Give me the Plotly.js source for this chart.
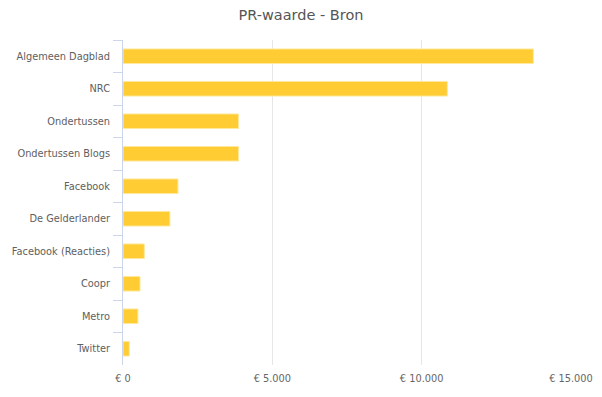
<!DOCTYPE html>
<html>
<head>
<meta charset="utf-8">
<script src="https://cdn.plot.ly/plotly-3.0.1.min.js"></script>
<style>html,body{margin:0;padding:0;background:#fff;}#chart{width:602px;height:397px;}</style>
</head>
<body>
<div id="chart"></div>
<script>
const categories = ["Algemeen Dagblad", "NRC", "Ondertussen", "Ondertussen Blogs", "Facebook", "De Gelderlander", "Facebook (Reacties)", "Coopr", "Metro", "Twitter"];
const prWaarde = [13740, 10860, 3870, 3870, 1840, 1570, 715, 570, 500, 210];
const xTickValues = [0, 5000, 10000, 15000];
const xTickLabels = xTickValues.map(v => "\u20AC " + String(v).replace(/\B(?=(\d{3})+(?!\d))/g, "."));

const trace = {
  type: "bar",
  orientation: "h",
  y: categories,
  x: prWaarde,
  marker: {color: "#ffcc33", line: {color: "#ffe9a0", width: 1}},
  hoverinfo: "x+y"
};

const layout = {
  width: 602,
  height: 397,
  margin: {l: 123, r: 31, t: 40, b: 32},
  paper_bgcolor: "#ffffff",
  plot_bgcolor: "#ffffff",
  font: {family: "DejaVu Sans, Verdana, sans-serif", size: 10, color: "#666666"},
  title: {text: "PR-waarde - Bron", font: {family: "DejaVu Sans, Verdana, sans-serif", size: 14.5, color: "#555555"}, x: 0.5, xanchor: "center", y: 0.962, yanchor: "middle"},
  bargap: 0.55,
  showlegend: false,
  xaxis: {
    range: [0, 15000.01],
    tickvals: xTickValues,
    ticktext: xTickLabels,
    showgrid: true,
    gridcolor: "#e6e6e6",
    gridwidth: 1,
    zeroline: false,
    showline: false,
    ticks: "",
    ticklabelstandoff: 6,
    tickfont: {size: 9.8, color: "#666666"},
    fixedrange: true
  },
  yaxis: {
    autorange: "reversed",
    type: "category",
    showline: true,
    linecolor: "#ccd6eb",
    linewidth: 1,
    ticks: "outside",
    tickson: "boundaries",
    ticklen: 9,
    tickcolor: "#ccd6eb",
    showgrid: false,
    zeroline: false,
    ticklabelstandoff: 10,
    tickfont: {size: 9.8, color: "#606060"},
    fixedrange: true
  }
};

Plotly.newPlot("chart", [trace], layout, {displayModeBar: false, staticPlot: true});
</script>
</body>
</html>
